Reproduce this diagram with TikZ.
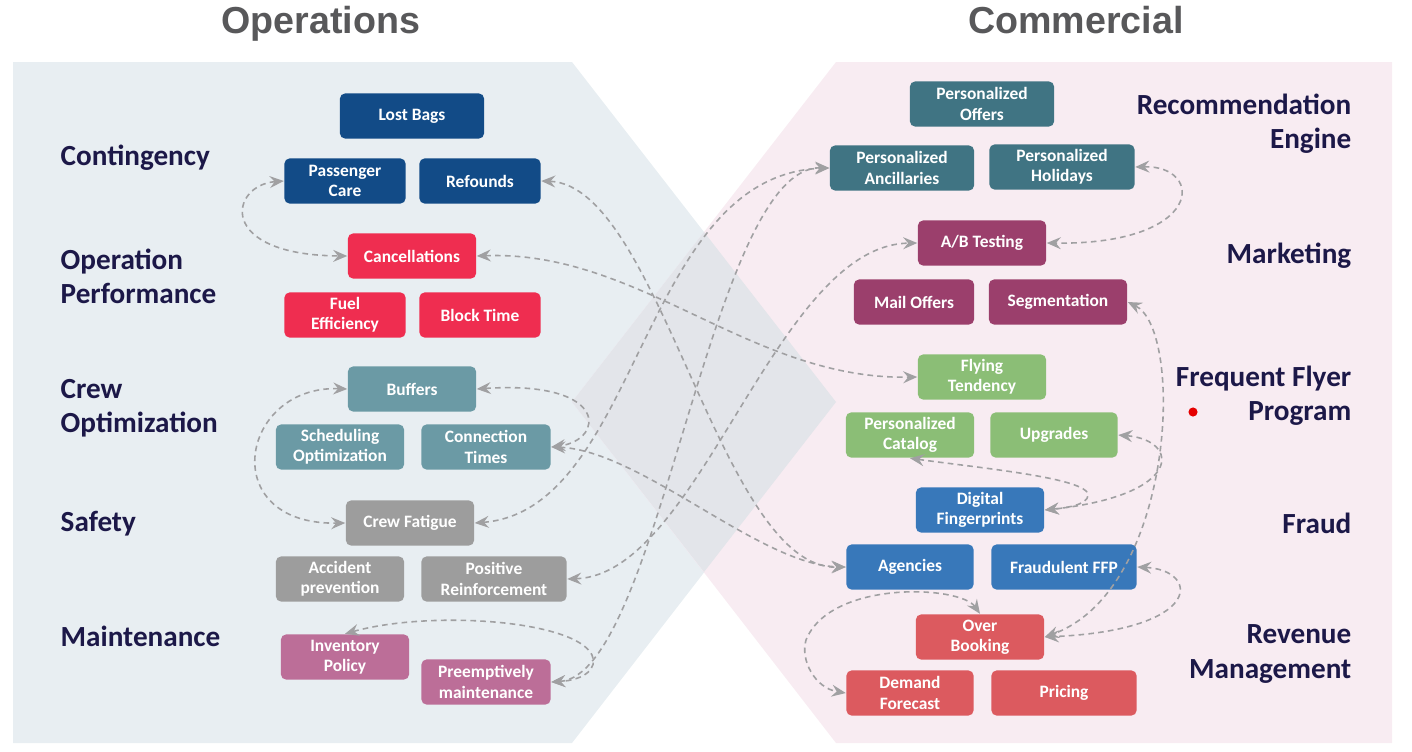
\documentclass[tikz,border=0pt]{standalone}
\usepackage{fontspec}
\setmainfont{Carlito}
\newfontfamily\headfont{Liberation Sans}
\usepackage{xcolor}
\usetikzlibrary{arrows.meta}

\definecolor{opsbg}{HTML}{E8EEF2}
\definecolor{combg}{HTML}{F8ECF2}
\definecolor{mixbg}{HTML}{E3E5EA}
\definecolor{headgray}{HTML}{58585A}
\definecolor{navy}{HTML}{1C1848}
\definecolor{linkgray}{HTML}{A0A0A2}
\definecolor{contblue}{HTML}{124B87}
\definecolor{perfred}{HTML}{EF2D50}
\definecolor{crewteal}{HTML}{6B9AA5}
\definecolor{safegray}{HTML}{9D9D9D}
\definecolor{maintpink}{HTML}{BC6E98}
\definecolor{recoteal}{HTML}{407483}
\definecolor{mktplum}{HTML}{9B3F6C}
\definecolor{ffgreen}{HTML}{8BBE76}
\definecolor{fraudblue}{HTML}{3878BA}
\definecolor{revred}{HTML}{DC5A5F}

\begin{document}
\begin{tikzpicture}[x=0.01cm, y=-0.01cm,
    box/.style={rectangle, rounded corners=0.05cm, minimum width=1.28cm, minimum height=0.45cm,
        inner sep=1pt, align=center, text=white, font=\bfseries\fontsize{4.95}{5.8}\selectfont},
    grouplabel/.style={inner sep=0pt, text=navy, font=\bfseries\fontsize{8.3}{9.7}\selectfont},
    headline/.style={inner sep=0pt, text=headgray, font=\headfont\bfseries\fontsize{10.7}{12}\selectfont},
    flow/.style={draw=linkgray, dashed, dash pattern=on 1.6pt off 1.2pt, line width=0.45pt,
        {Stealth[length=4pt,width=3.4pt,inset=1.4pt]}-{Stealth[length=4pt,width=3.4pt,inset=1.4pt]}}]
    \useasboundingbox (0,0) rectangle (1412,751);

    % panels
    \fill[opsbg] (13,62) -- (572,62) -- (836,402) -- (572,743) -- (13,743) -- cycle;
    \fill[combg] (1392,62) -- (836,62) -- (572,402) -- (836,743) -- (1392,743) -- cycle;
    \fill[mixbg] (704,232) -- (836,402) -- (704,572) -- (572,402) -- cycle;

    \node[headline, anchor=base] (opstitle) at (321,33) {Operations};
    \node[headline, anchor=base] (comtitle) at (1076,33) {Commercial};

    % operations side
    \node[grouplabel, anchor=west, align=left] (contingency) at (60,158) {Contingency};
    \node[grouplabel, anchor=west, align=left] (opperf) at (60,276) {Operation\\Performance};
    \node[grouplabel, anchor=west, align=left] (crewopt) at (60,408) {Crew\\Optimization};
    \node[grouplabel, anchor=west, align=left] (safety) at (60,524) {Safety};
    \node[grouplabel, anchor=west, align=left] (maintenance) at (60,636) {Maintenance};

    \node[box, fill=contblue, minimum width=1.44cm] (lostbags) at (412,116) {Lost Bags};
    \node[box, fill=contblue, minimum width=1.21cm] (paxcare) at (345,181) {Passenger\\Care};
    \node[box, fill=contblue, minimum width=1.21cm] (refounds) at (480,181) {Refounds};
    \node[box, fill=perfred] (cancel) at (412,256) {Cancellations};
    \node[box, fill=perfred, minimum width=1.21cm] (fuel) at (345,315) {Fuel\\Efficiency};
    \node[box, fill=perfred, minimum width=1.21cm] (blocktime) at (480,315) {Block Time};
    \node[box, fill=crewteal] (buffers) at (412,389) {Buffers};
    \node[box, fill=crewteal] (sched) at (340,447) {Scheduling\\Optimization};
    \node[box, fill=crewteal, minimum width=1.29cm] (conntimes) at (486,447) {Connection\\Times};
    \node[box, fill=safegray] (fatigue) at (410,523) {Crew Fatigue};
    \node[box, fill=safegray] (accident) at (340,579) {Accident\\prevention};
    \node[box, fill=safegray, minimum width=1.45cm] (posreinf) at (494,579) {Positive\\Reinforcement};
    \node[box, fill=maintpink] (inventory) at (345,657) {Inventory\\Policy};
    \node[box, fill=maintpink, minimum width=1.29cm] (preempt) at (486,682) {Preemptively\\maintenance};

    % commercial side
    \node[grouplabel, anchor=east, align=right] (recommend) at (1352,124) {Recommendation\\Engine};
    \node[grouplabel, anchor=east, align=right] (marketing) at (1352,256) {Marketing};
    \node[grouplabel, anchor=east, align=right] (ffprogram) at (1352,396) {Frequent Flyer\\Program};
    \node[grouplabel, anchor=east, align=right] (fraud) at (1352,523) {Fraud};
    \node[grouplabel, anchor=east, align=right] (revenue) at (1352,654) {Revenue\\Management};
    \fill[red!90!black] (1193,412) circle (1.3pt);

    \node[box, fill=recoteal, minimum width=1.44cm] (offers) at (982,104) {Personalized\\Offers};
    \node[box, fill=recoteal, minimum width=1.44cm] (ancill) at (902,168) {Personalized\\Ancillaries};
    \node[box, fill=recoteal, minimum width=1.45cm] (holidays) at (1062,167) {Personalized\\Holidays};
    \node[box, fill=mktplum] (abtest) at (982,243) {A/B Testing};
    \node[box, fill=mktplum, minimum width=1.20cm] (mail) at (914,302) {Mail Offers};
    \node[box, fill=mktplum, minimum width=1.38cm] (segment) at (1058,302) {Segmentation};
    \node[box, fill=ffgreen] (flying) at (982,377) {Flying\\Tendency};
    \node[box, fill=ffgreen] (catalog) at (910,435) {Personalized\\Catalog};
    \node[box, fill=ffgreen, minimum width=1.27cm] (upgrades) at (1054,435) {Upgrades};
    \node[box, fill=fraudblue] (digital) at (980,510) {Digital\\Fingerprints};
    \node[box, fill=fraudblue, minimum width=1.27cm] (agencies) at (910,567) {Agencies};
    \node[box, fill=fraudblue, minimum width=1.45cm] (fraudffp) at (1064,567) {Fraudulent FFP};
    \node[box, fill=revred] (overbook) at (980,637) {Over\\Booking};
    \node[box, fill=revred, minimum width=1.27cm] (demand) at (910,693) {Demand\\Forecast};
    \node[box, fill=revred, minimum width=1.45cm] (pricing) at (1064,693) {Pricing};

    % links
    \draw[flow] (paxcare.west) .. controls (230,185) and (215,255) .. (cancel.west);
    \draw[flow] (buffers.west) .. controls (240,385) and (215,525) .. (fatigue.west);
    \draw[flow] (buffers.east) .. controls (610,380) and (605,440) .. (conntimes.east);
    \draw[flow] (refounds.east) .. controls (660,185) and (720,570) .. (agencies.west);
    \draw[flow] (cancel.east) .. controls (640,250) and (750,380) .. (flying.west);
    \draw[flow] (conntimes.east) .. controls (640,450) and (760,565) .. (agencies.west);
    \draw[flow] (fatigue.east) .. controls (640,510) and (640,175) .. (ancill.west);
    \draw[flow] (posreinf.east) .. controls (700,575) and (775,245) .. (abtest.west);
    \draw[flow] (preempt.east) .. controls (660,675) and (710,165) .. (ancill.west);
    \draw[flow] (inventory.north) .. controls (430,610) and (575,620) .. (592,655)
        .. controls (598,668) and (585,680) .. (preempt.east);

    \draw[flow] (holidays.east) .. controls (1205,165) and (1205,245) .. (abtest.east);
    \draw[flow] (segment.east) .. controls (1185,330) and (1175,590) .. (overbook.east);
    \draw[flow] (upgrades.east) .. controls (1180,440) and (1185,495) .. (digital.east);
    \draw[flow] (catalog.south) .. controls (980,468) and (1088,478) .. (1088,495)
        .. controls (1088,505) and (1065,508) .. (digital.east);
    \draw[flow] (fraudffp.east) .. controls (1200,570) and (1205,630) .. (overbook.east);
    \draw[flow] (overbook.north) .. controls (960,585) and (830,580) .. (806,640)
        .. controls (800,660) and (815,688) .. (demand.west);
\end{tikzpicture}
\end{document}
